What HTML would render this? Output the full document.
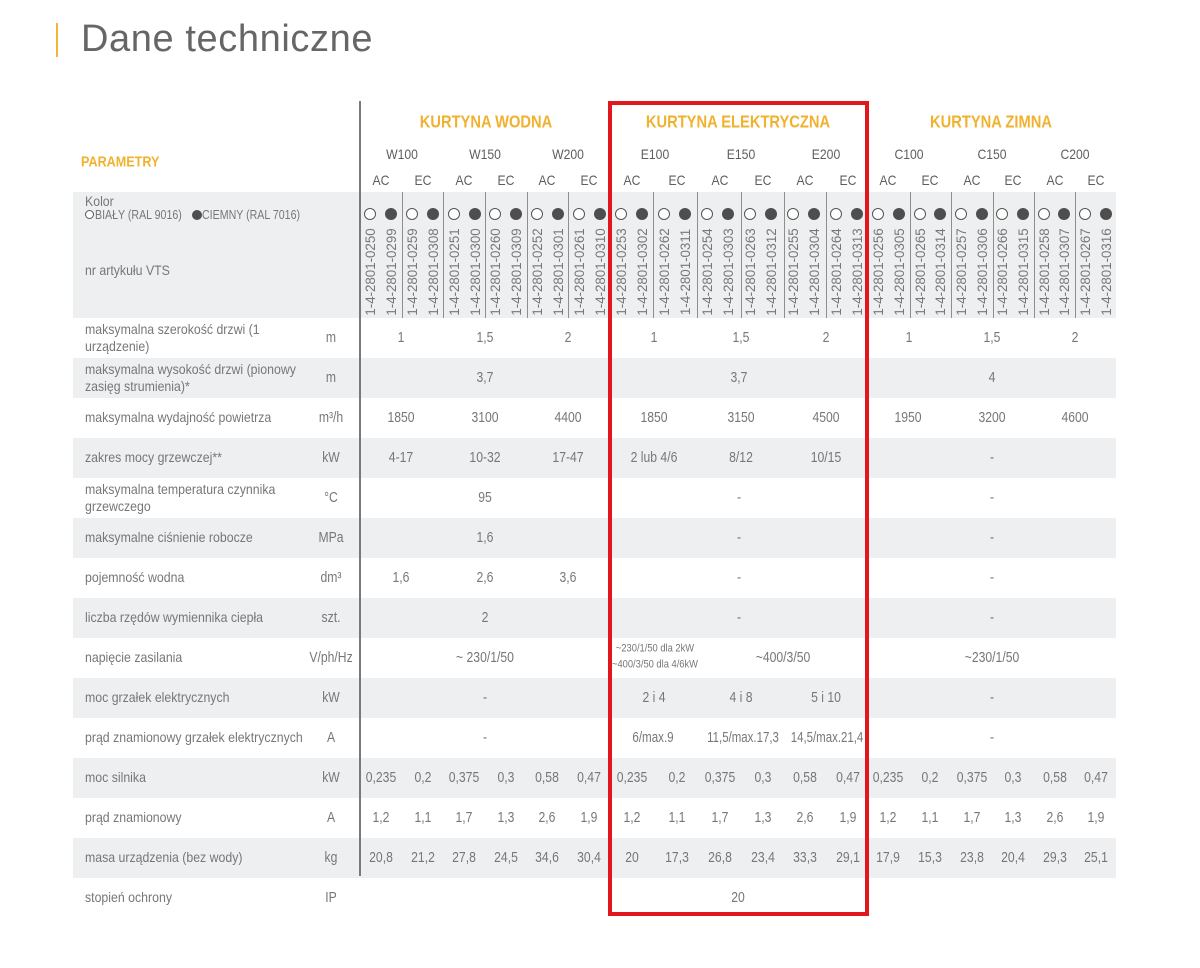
<!DOCTYPE html>
<html><head><meta charset="utf-8"><style>
html,body{margin:0;padding:0}
body{width:1200px;height:968px;background:#fff;position:relative;overflow:hidden;font-family:"Liberation Sans",sans-serif;color:#777}
.t{position:absolute;white-space:nowrap;line-height:1}
.c{transform:translate(-50%,-50%) scaleX(.84);font-size:14.5px;color:#777}
.lab{transform:translateY(-50%) scaleX(.88);transform-origin:0 50%;font-size:14px;color:#777}
.h{transform:translate(-50%,-50%) scaleX(.87);font-size:14px;color:#5e5e5e}
.g{transform:translate(-50%,-50%) scaleX(.84);font-size:17.5px;font-weight:bold;color:#f0b22e}
.a{transform:translate(-50%,-50%) rotate(-90deg) scaleX(.95);font-size:14px;color:#777}
.s{transform:translate(-50%,-50%) scaleX(.85);font-size:11px;color:#777}
.r{position:absolute;left:73px;width:1043px;height:40px;background:#eeeff1}
.sep{position:absolute;top:192px;width:1px;height:126px;background:#8e8e8e}
.cw,.cd{position:absolute;top:207.5px;width:12px;height:12px;border-radius:50%;box-sizing:border-box}
.cw{background:#fff;border:1px solid #555}
.cd{background:#4e4e4e}
</style></head><body>

<div style="position:absolute;left:56px;top:23px;width:2px;height:34px;background:#f2b53a"></div>
<div class="t" style="left:81px;top:20px;font-size:38px;line-height:38px;letter-spacing:0.6px;color:#666">Dane techniczne</div>

<div class="r" style="top:192px;height:126px"></div>
<div class="r" style="top:358px"></div>
<div class="r" style="top:438px"></div>
<div class="r" style="top:518px"></div>
<div class="r" style="top:598px"></div>
<div class="r" style="top:678px"></div>
<div class="r" style="top:758px"></div>
<div class="r" style="top:838px"></div>

<div class="sep" style="left:402px"></div><div class="sep" style="left:443px"></div><div class="sep" style="left:485px"></div><div class="sep" style="left:527px"></div><div class="sep" style="left:568px"></div>
<div class="sep" style="left:653px"></div><div class="sep" style="left:697px"></div><div class="sep" style="left:741px"></div><div class="sep" style="left:784px"></div><div class="sep" style="left:826px"></div>
<div class="sep" style="left:910px"></div><div class="sep" style="left:951px"></div><div class="sep" style="left:993px"></div><div class="sep" style="left:1034px"></div><div class="sep" style="left:1075px"></div>

<div style="position:absolute;left:359px;top:101px;width:1.5px;height:775px;background:#7a7a7a"></div>

<div class="t lab" style="left:81px;top:162px;font-size:15px;font-weight:bold;color:#f0b22e;transform:translateY(-50%) scaleX(.84)">PARAMETRY</div>

<div class="t g" style="left:486px;top:122px">KURTYNA WODNA</div>
<div class="t g" style="left:738px;top:122px">KURTYNA ELEKTRYCZNA</div>
<div class="t g" style="left:991px;top:122px">KURTYNA ZIMNA</div>

<div class="t h" style="left:402px;top:154px">W100</div>
<div class="t h" style="left:485px;top:154px">W150</div>
<div class="t h" style="left:568px;top:154px">W200</div>
<div class="t h" style="left:655px;top:154px">E100</div>
<div class="t h" style="left:741px;top:154px">E150</div>
<div class="t h" style="left:826px;top:154px">E200</div>
<div class="t h" style="left:909px;top:154px">C100</div>
<div class="t h" style="left:992px;top:154px">C150</div>
<div class="t h" style="left:1075px;top:154px">C200</div>

<div class="t h" style="left:381px;top:180px">AC</div><div class="t h" style="left:423px;top:180px">EC</div>
<div class="t h" style="left:464px;top:180px">AC</div><div class="t h" style="left:506px;top:180px">EC</div>
<div class="t h" style="left:547px;top:180px">AC</div><div class="t h" style="left:589px;top:180px">EC</div>
<div class="t h" style="left:632px;top:180px">AC</div><div class="t h" style="left:677px;top:180px">EC</div>
<div class="t h" style="left:720px;top:180px">AC</div><div class="t h" style="left:763px;top:180px">EC</div>
<div class="t h" style="left:805px;top:180px">AC</div><div class="t h" style="left:848px;top:180px">EC</div>
<div class="t h" style="left:888px;top:180px">AC</div><div class="t h" style="left:930px;top:180px">EC</div>
<div class="t h" style="left:972px;top:180px">AC</div><div class="t h" style="left:1013px;top:180px">EC</div>
<div class="t h" style="left:1055px;top:180px">AC</div><div class="t h" style="left:1096px;top:180px">EC</div>

<!-- Kolor / legend -->
<div class="t lab" style="left:85px;top:201px">Kolor</div>
<div style="position:absolute;left:85px;top:209.5px;width:9px;height:9px;border:1px solid #555;border-radius:50%;box-sizing:border-box;background:#fff"></div>
<div class="t lab" style="left:95px;top:215px;font-size:12.5px;transform:translateY(-50%) scaleX(.85)">BIAŁY (RAL 9016)</div>
<div style="position:absolute;left:192px;top:209.5px;width:10px;height:10px;border-radius:50%;background:#4e4e4e"></div>
<div class="t lab" style="left:202px;top:215px;font-size:12.5px;transform:translateY(-50%) scaleX(.85)">CIEMNY (RAL 7016)</div>
<div class="t lab" style="left:85px;top:270px">nr artykułu VTS</div>

<!-- circles -->
<div class="cw" style="left:364.4px"></div><div class="cd" style="left:385.3px"></div>
<div class="cw" style="left:406.1px"></div><div class="cd" style="left:426.9px"></div>
<div class="cw" style="left:447.8px"></div><div class="cd" style="left:468.6px"></div>
<div class="cw" style="left:489.4px"></div><div class="cd" style="left:510.3px"></div>
<div class="cw" style="left:531.1px"></div><div class="cd" style="left:551.9px"></div>
<div class="cw" style="left:572.8px"></div><div class="cd" style="left:593.6px"></div>
<div class="cw" style="left:614.8px"></div><div class="cd" style="left:636.3px"></div>
<div class="cw" style="left:657.8px"></div><div class="cd" style="left:679.3px"></div>
<div class="cw" style="left:700.8px"></div><div class="cd" style="left:722.3px"></div>
<div class="cw" style="left:743.8px"></div><div class="cd" style="left:765.3px"></div>
<div class="cw" style="left:786.8px"></div><div class="cd" style="left:808.3px"></div>
<div class="cw" style="left:829.8px"></div><div class="cd" style="left:851.3px"></div>
<div class="cw" style="left:872.3px"></div><div class="cd" style="left:893px"></div>
<div class="cw" style="left:913.7px"></div><div class="cd" style="left:934.3px"></div>
<div class="cw" style="left:955px"></div><div class="cd" style="left:975.7px"></div>
<div class="cw" style="left:996.3px"></div><div class="cd" style="left:1017px"></div>
<div class="cw" style="left:1037.7px"></div><div class="cd" style="left:1058.3px"></div>
<div class="cw" style="left:1079px"></div><div class="cd" style="left:1099.7px"></div>

<!-- article numbers -->
<div class="t a" style="left:370.4px;top:272px">1-4-2801-0250</div>
<div class="t a" style="left:391.3px;top:272px">1-4-2801-0299</div>
<div class="t a" style="left:412.1px;top:272px">1-4-2801-0259</div>
<div class="t a" style="left:432.9px;top:272px">1-4-2801-0308</div>
<div class="t a" style="left:453.8px;top:272px">1-4-2801-0251</div>
<div class="t a" style="left:474.6px;top:272px">1-4-2801-0300</div>
<div class="t a" style="left:495.4px;top:272px">1-4-2801-0260</div>
<div class="t a" style="left:516.3px;top:272px">1-4-2801-0309</div>
<div class="t a" style="left:537.1px;top:272px">1-4-2801-0252</div>
<div class="t a" style="left:557.9px;top:272px">1-4-2801-0301</div>
<div class="t a" style="left:578.8px;top:272px">1-4-2801-0261</div>
<div class="t a" style="left:599.6px;top:272px">1-4-2801-0310</div>
<div class="t a" style="left:620.8px;top:272px">1-4-2801-0253</div>
<div class="t a" style="left:642.3px;top:272px">1-4-2801-0302</div>
<div class="t a" style="left:663.8px;top:272px">1-4-2801-0262</div>
<div class="t a" style="left:685.3px;top:272px">1-4-2801-0311</div>
<div class="t a" style="left:706.8px;top:272px">1-4-2801-0254</div>
<div class="t a" style="left:728.3px;top:272px">1-4-2801-0303</div>
<div class="t a" style="left:749.8px;top:272px">1-4-2801-0263</div>
<div class="t a" style="left:771.3px;top:272px">1-4-2801-0312</div>
<div class="t a" style="left:792.8px;top:272px">1-4-2801-0255</div>
<div class="t a" style="left:814.3px;top:272px">1-4-2801-0304</div>
<div class="t a" style="left:835.8px;top:272px">1-4-2801-0264</div>
<div class="t a" style="left:857.3px;top:272px">1-4-2801-0313</div>
<div class="t a" style="left:878.3px;top:272px">1-4-2801-0256</div>
<div class="t a" style="left:899px;top:272px">1-4-2801-0305</div>
<div class="t a" style="left:919.7px;top:272px">1-4-2801-0265</div>
<div class="t a" style="left:940.3px;top:272px">1-4-2801-0314</div>
<div class="t a" style="left:961px;top:272px">1-4-2801-0257</div>
<div class="t a" style="left:981.7px;top:272px">1-4-2801-0306</div>
<div class="t a" style="left:1002.3px;top:272px">1-4-2801-0266</div>
<div class="t a" style="left:1023px;top:272px">1-4-2801-0315</div>
<div class="t a" style="left:1043.7px;top:272px">1-4-2801-0258</div>
<div class="t a" style="left:1064.3px;top:272px">1-4-2801-0307</div>
<div class="t a" style="left:1085px;top:272px">1-4-2801-0267</div>
<div class="t a" style="left:1105.7px;top:272px">1-4-2801-0316</div>

<!-- row labels -->
<div class="t lab" style="left:85px;top:329px">maksymalna szerokość drzwi (1</div>
<div class="t lab" style="left:85px;top:346px">urządzenie)</div>
<div class="t lab" style="left:85px;top:369px">maksymalna wysokość drzwi (pionowy</div>
<div class="t lab" style="left:85px;top:386px">zasięg strumienia)*</div>
<div class="t lab" style="left:85px;top:417px">maksymalna wydajność powietrza</div>
<div class="t lab" style="left:85px;top:457px">zakres mocy grzewczej**</div>
<div class="t lab" style="left:85px;top:489px">maksymalna temperatura czynnika</div>
<div class="t lab" style="left:85px;top:506px">grzewczego</div>
<div class="t lab" style="left:85px;top:537px">maksymalne ciśnienie robocze</div>
<div class="t lab" style="left:85px;top:577px">pojemność wodna</div>
<div class="t lab" style="left:85px;top:617px">liczba rzędów wymiennika ciepła</div>
<div class="t lab" style="left:85px;top:657px">napięcie zasilania</div>
<div class="t lab" style="left:85px;top:697px">moc grzałek elektrycznych</div>
<div class="t lab" style="left:85px;top:737px">prąd znamionowy grzałek elektrycznych</div>
<div class="t lab" style="left:85px;top:777px">moc silnika</div>
<div class="t lab" style="left:85px;top:817px">prąd znamionowy</div>
<div class="t lab" style="left:85px;top:857px">masa urządzenia (bez wody)</div>
<div class="t lab" style="left:85px;top:897px">stopień ochrony</div>

<!-- units -->
<div class="t c" style="left:331px;top:338px">m</div>
<div class="t c" style="left:331px;top:378px">m</div>
<div class="t c" style="left:331px;top:418px">m³/h</div>
<div class="t c" style="left:331px;top:458px">kW</div>
<div class="t c" style="left:331px;top:498px">°C</div>
<div class="t c" style="left:331px;top:538px">MPa</div>
<div class="t c" style="left:331px;top:578px">dm³</div>
<div class="t c" style="left:331px;top:618px">szt.</div>
<div class="t c" style="left:331px;top:658px">V/ph/Hz</div>
<div class="t c" style="left:331px;top:698px">kW</div>
<div class="t c" style="left:331px;top:738px">A</div>
<div class="t c" style="left:331px;top:778px">kW</div>
<div class="t c" style="left:331px;top:818px">A</div>
<div class="t c" style="left:331px;top:858px">kg</div>
<div class="t c" style="left:331px;top:898px">IP</div>

<!-- r0 -->
<div class="t c" style="left:401px;top:338px">1</div>
<div class="t c" style="left:485px;top:338px">1,5</div>
<div class="t c" style="left:568px;top:338px">2</div>
<div class="t c" style="left:654px;top:338px">1</div>
<div class="t c" style="left:741px;top:338px">1,5</div>
<div class="t c" style="left:826px;top:338px">2</div>
<div class="t c" style="left:909px;top:338px">1</div>
<div class="t c" style="left:992px;top:338px">1,5</div>
<div class="t c" style="left:1075px;top:338px">2</div>
<!-- r1 -->
<div class="t c" style="left:485px;top:378px">3,7</div>
<div class="t c" style="left:739px;top:378px">3,7</div>
<div class="t c" style="left:992px;top:378px">4</div>
<!-- r2 -->
<div class="t c" style="left:401px;top:418px">1850</div>
<div class="t c" style="left:485px;top:418px">3100</div>
<div class="t c" style="left:568px;top:418px">4400</div>
<div class="t c" style="left:654px;top:418px">1850</div>
<div class="t c" style="left:741px;top:418px">3150</div>
<div class="t c" style="left:826px;top:418px">4500</div>
<div class="t c" style="left:908px;top:418px">1950</div>
<div class="t c" style="left:992px;top:418px">3200</div>
<div class="t c" style="left:1075px;top:418px">4600</div>
<!-- r3 -->
<div class="t c" style="left:401px;top:458px">4-17</div>
<div class="t c" style="left:485px;top:458px">10-32</div>
<div class="t c" style="left:568px;top:458px">17-47</div>
<div class="t c" style="left:654px;top:458px">2 lub 4/6</div>
<div class="t c" style="left:741px;top:458px">8/12</div>
<div class="t c" style="left:826px;top:458px">10/15</div>
<div class="t c" style="left:992px;top:458px">-</div>
<!-- r4 -->
<div class="t c" style="left:485px;top:498px">95</div>
<div class="t c" style="left:739px;top:498px">-</div>
<div class="t c" style="left:992px;top:498px">-</div>
<!-- r5 -->
<div class="t c" style="left:485px;top:538px">1,6</div>
<div class="t c" style="left:739px;top:538px">-</div>
<div class="t c" style="left:992px;top:538px">-</div>
<!-- r6 -->
<div class="t c" style="left:401px;top:578px">1,6</div>
<div class="t c" style="left:485px;top:578px">2,6</div>
<div class="t c" style="left:568px;top:578px">3,6</div>
<div class="t c" style="left:739px;top:578px">-</div>
<div class="t c" style="left:992px;top:578px">-</div>
<!-- r7 -->
<div class="t c" style="left:485px;top:618px">2</div>
<div class="t c" style="left:739px;top:618px">-</div>
<div class="t c" style="left:992px;top:618px">-</div>
<!-- r8 -->
<div class="t c" style="left:485px;top:658px">~ 230/1/50</div>
<div class="t s" style="left:655px;top:649px">~230/1/50 dla 2kW</div>
<div class="t s" style="left:655px;top:665px">~400/3/50 dla 4/6kW</div>
<div class="t c" style="left:783px;top:658px">~400/3/50</div>
<div class="t c" style="left:992px;top:658px">~230/1/50</div>
<!-- r9 -->
<div class="t c" style="left:485px;top:698px">-</div>
<div class="t c" style="left:654px;top:698px">2 i 4</div>
<div class="t c" style="left:741px;top:698px">4 i 8</div>
<div class="t c" style="left:826px;top:698px">5 i 10</div>
<div class="t c" style="left:992px;top:698px">-</div>
<!-- r10 -->
<div class="t c" style="left:485px;top:738px">-</div>
<div class="t c" style="left:653px;top:738px;transform:translate(-50%,-50%) scaleX(.8)">6/max.9</div>
<div class="t c" style="left:743px;top:738px;transform:translate(-50%,-50%) scaleX(.79)">11,5/max.17,3</div>
<div class="t c" style="left:827px;top:738px;transform:translate(-50%,-50%) scaleX(.79)">14,5/max.21,4</div>
<div class="t c" style="left:992px;top:738px">-</div>
<!-- r11 -->
<div class="t c" style="left:381px;top:778px">0,235</div><div class="t c" style="left:423px;top:778px">0,2</div>
<div class="t c" style="left:464px;top:778px">0,375</div><div class="t c" style="left:506px;top:778px">0,3</div>
<div class="t c" style="left:547px;top:778px">0,58</div><div class="t c" style="left:589px;top:778px">0,47</div>
<div class="t c" style="left:632px;top:778px">0,235</div><div class="t c" style="left:677px;top:778px">0,2</div>
<div class="t c" style="left:720px;top:778px">0,375</div><div class="t c" style="left:763px;top:778px">0,3</div>
<div class="t c" style="left:805px;top:778px">0,58</div><div class="t c" style="left:848px;top:778px">0,47</div>
<div class="t c" style="left:888px;top:778px">0,235</div><div class="t c" style="left:930px;top:778px">0,2</div>
<div class="t c" style="left:972px;top:778px">0,375</div><div class="t c" style="left:1013px;top:778px">0,3</div>
<div class="t c" style="left:1055px;top:778px">0,58</div><div class="t c" style="left:1096px;top:778px">0,47</div>
<!-- r12 -->
<div class="t c" style="left:381px;top:818px">1,2</div><div class="t c" style="left:423px;top:818px">1,1</div>
<div class="t c" style="left:464px;top:818px">1,7</div><div class="t c" style="left:506px;top:818px">1,3</div>
<div class="t c" style="left:547px;top:818px">2,6</div><div class="t c" style="left:589px;top:818px">1,9</div>
<div class="t c" style="left:632px;top:818px">1,2</div><div class="t c" style="left:677px;top:818px">1,1</div>
<div class="t c" style="left:720px;top:818px">1,7</div><div class="t c" style="left:763px;top:818px">1,3</div>
<div class="t c" style="left:805px;top:818px">2,6</div><div class="t c" style="left:848px;top:818px">1,9</div>
<div class="t c" style="left:888px;top:818px">1,2</div><div class="t c" style="left:930px;top:818px">1,1</div>
<div class="t c" style="left:972px;top:818px">1,7</div><div class="t c" style="left:1013px;top:818px">1,3</div>
<div class="t c" style="left:1055px;top:818px">2,6</div><div class="t c" style="left:1096px;top:818px">1,9</div>
<!-- r13 -->
<div class="t c" style="left:381px;top:858px">20,8</div><div class="t c" style="left:423px;top:858px">21,2</div>
<div class="t c" style="left:464px;top:858px">27,8</div><div class="t c" style="left:506px;top:858px">24,5</div>
<div class="t c" style="left:547px;top:858px">34,6</div><div class="t c" style="left:589px;top:858px">30,4</div>
<div class="t c" style="left:632px;top:858px">20</div><div class="t c" style="left:677px;top:858px">17,3</div>
<div class="t c" style="left:720px;top:858px">26,8</div><div class="t c" style="left:763px;top:858px">23,4</div>
<div class="t c" style="left:805px;top:858px">33,3</div><div class="t c" style="left:848px;top:858px">29,1</div>
<div class="t c" style="left:888px;top:858px">17,9</div><div class="t c" style="left:930px;top:858px">15,3</div>
<div class="t c" style="left:972px;top:858px">23,8</div><div class="t c" style="left:1013px;top:858px">20,4</div>
<div class="t c" style="left:1055px;top:858px">29,3</div><div class="t c" style="left:1096px;top:858px">25,1</div>
<!-- r14 -->
<div class="t c" style="left:738px;top:898px">20</div>

<!-- red box -->
<div style="position:absolute;left:608px;top:101px;width:261px;height:815px;border:4px solid #e2171d;box-sizing:border-box"></div>

</body></html>
